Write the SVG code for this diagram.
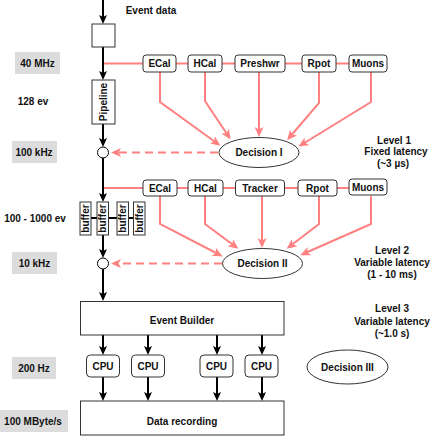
<svg xmlns="http://www.w3.org/2000/svg" width="436" height="436" viewBox="0 0 436 436">
<style>
text{font-family:"Liberation Sans",Arial,sans-serif;font-weight:bold;font-size:10px;fill:#111;text-anchor:middle}
.box{fill:#fff;stroke:#333;stroke-width:1}
.rbox{fill:#fff;stroke:#333;stroke-width:1}
.gray{fill:#dcdcdc;stroke:none}
.blk{stroke:#000;stroke-width:2;fill:none}
.pk{stroke:#ff8080;stroke-width:2;fill:none;stroke-linejoin:miter}
.dash{stroke:#ff8080;stroke-width:2;fill:none;stroke-dasharray:8 5}
.ell{fill:#fff;stroke:#333;stroke-width:1}
.circ{fill:#fff;stroke:#000;stroke-width:1}
</style>
<defs>
<marker id="ab" viewBox="0 0 9 8" refX="6" refY="4" markerWidth="9" markerHeight="8" markerUnits="userSpaceOnUse" orient="auto">
<path d="M0,0 L9,4 L0,8 L2,4 z" fill="#000"/>
</marker>
<marker id="ap" viewBox="0 0 10 9" refX="7" refY="4.5" markerWidth="10" markerHeight="9" markerUnits="userSpaceOnUse" orient="auto">
<path d="M0,0 L10,4.5 L0,9 L2.5,4.5 z" fill="#ff8080"/>
</marker>
</defs>

<g id="labels">
<rect class="gray" x="15" y="52" width="45" height="22"/><text x="37.5" y="66.5">40 MHz</text>
<text x="33" y="104.5">128 ev</text>
<rect class="gray" x="12" y="141" width="45" height="22"/><text x="34" y="155.5">100 kHz</text>
<text x="35" y="221.5">100 - 1000 ev</text>
<rect class="gray" x="12" y="252" width="45" height="22"/><text x="34.5" y="266.5">10 kHz</text>
<rect class="gray" x="12" y="357" width="44" height="22"/><text x="34" y="371.5">200 Hz</text>
<rect class="gray" x="0" y="410" width="68" height="22"/><text x="33" y="424.5">100 MByte/s</text>
<text x="151" y="13.5">Event data</text>
<text x="394" y="143.5">Level 1</text>
<text x="396" y="155">Fixed latency</text>
<text x="393" y="166.5">(~3 µs)</text>
<text x="392" y="254">Level 2</text>
<text x="392" y="266">Variable latency</text>
<text x="392" y="277.5">(1 - 10 ms)</text>
<text x="392" y="312">Level 3</text>
<text x="392" y="324.5">Variable latency</text>
<text x="392" y="336.5">(~1.0 s)</text>
</g>

<g id="connectors">
<line class="pk" x1="103" y1="63.5" x2="349" y2="63.5"/>
<line class="pk" x1="103" y1="188" x2="349" y2="188"/>
<polyline class="pk" points="160,72 160,102 218,144" marker-end="url(#ap)"/>
<polyline class="pk" points="205,72 205,101 229,137" marker-end="url(#ap)"/>
<polyline class="pk" points="259,72 259,134" marker-end="url(#ap)"/>
<polyline class="pk" points="319,72 319,103 289,138" marker-end="url(#ap)"/>
<polyline class="pk" points="371,72 371,102 301,145" marker-end="url(#ap)"/>
<polyline class="pk" points="160,196 160,224 220,255" marker-end="url(#ap)"/>
<polyline class="pk" points="205,196 205,224 236,247" marker-end="url(#ap)"/>
<polyline class="pk" points="262,196 262,245" marker-end="url(#ap)"/>
<polyline class="pk" points="319,196 319,224 289,247" marker-end="url(#ap)"/>
<polyline class="pk" points="371,196 371,224 303,254" marker-end="url(#ap)"/>
<line class="dash" x1="218" y1="152.5" x2="114" y2="152.5" marker-end="url(#ap)"/>
<line class="dash" x1="222" y1="263.5" x2="114" y2="263.5" marker-end="url(#ap)"/>
<line class="blk" x1="103" y1="0" x2="103" y2="21" marker-end="url(#ab)"/>
<line class="blk" x1="103" y1="47" x2="103" y2="77" marker-end="url(#ab)"/>
<line class="blk" x1="103" y1="124" x2="103" y2="144" marker-end="url(#ab)"/>
<line class="blk" x1="103" y1="158" x2="103" y2="199" marker-end="url(#ab)"/>
<line class="blk" x1="80" y1="218" x2="145" y2="218"/>
<line class="blk" x1="103" y1="235" x2="103" y2="255" marker-end="url(#ab)"/>
<line class="blk" x1="103" y1="269" x2="103" y2="298" marker-end="url(#ab)"/>
<line class="blk" x1="103" y1="335" x2="103" y2="352" marker-end="url(#ab)"/>
<line class="blk" x1="148" y1="335" x2="148" y2="352" marker-end="url(#ab)"/>
<line class="blk" x1="217" y1="335" x2="217" y2="352" marker-end="url(#ab)"/>
<line class="blk" x1="262" y1="335" x2="262" y2="352" marker-end="url(#ab)"/>
<line class="blk" x1="103" y1="377" x2="103" y2="398" marker-end="url(#ab)"/>
<line class="blk" x1="148" y1="377" x2="148" y2="398" marker-end="url(#ab)"/>
<line class="blk" x1="217" y1="377" x2="217" y2="398" marker-end="url(#ab)"/>
<line class="blk" x1="262" y1="377" x2="262" y2="398" marker-end="url(#ab)"/>
</g>

<g id="input-box"><rect class="box" x="92" y="24" width="23" height="23"/></g>
<g id="pipeline"><rect class="box" x="92" y="80" width="23" height="44"/><text transform="translate(106.5,102) rotate(-90)">Pipeline</text></g>
<g id="node-circle1"><circle class="circ" cx="103" cy="152.5" r="5.5"/></g>
<g id="node-circle2"><circle class="circ" cx="103" cy="263.5" r="5.5"/></g>

<g id="ecal1"><rect class="rbox" x="143" y="55" width="33" height="17" rx="3"/><text x="159.5" y="67">ECal</text></g>
<g id="hcal1"><rect class="rbox" x="188" y="55" width="34" height="17" rx="3"/><text x="205" y="67">HCal</text></g>
<g id="preshwr"><rect class="rbox" x="235" y="55" width="50" height="17" rx="3"/><text x="260" y="67">Preshwr</text></g>
<g id="rpot1"><rect class="rbox" x="302" y="55" width="34" height="17" rx="3"/><text x="319" y="67">Rpot</text></g>
<g id="muons1"><rect class="rbox" x="349" y="55" width="38" height="17" rx="3"/><text x="368" y="67">Muons</text></g>
<g id="decision1"><ellipse class="ell" cx="259" cy="152.5" rx="40" ry="15"/><text x="259" y="156">Decision I</text></g>

<g id="ecal2"><rect class="rbox" x="143" y="180" width="34" height="16" rx="3"/><text x="160" y="191.5">ECal</text></g>
<g id="hcal2"><rect class="rbox" x="188" y="180" width="35" height="16" rx="3"/><text x="205.5" y="191.5">HCal</text></g>
<g id="tracker"><rect class="rbox" x="235.5" y="180" width="49" height="16" rx="3"/><text x="260" y="191.5">Tracker</text></g>
<g id="rpot2"><rect class="rbox" x="298" y="180" width="39" height="16" rx="3"/><text x="317.5" y="191.5">Rpot</text></g>
<g id="muons2"><rect class="rbox" x="349" y="179" width="38" height="16" rx="3"/><text x="368" y="190.5">Muons</text></g>
<g id="decision2"><ellipse class="ell" cx="262.5" cy="263.5" rx="40" ry="15"/><text x="262.5" y="267">Decision II</text></g>

<g id="buffer1"><rect class="box" x="80" y="202" width="11" height="33"/><text transform="translate(89,218.5) rotate(-90)">buffer</text></g>
<g id="buffer2"><rect class="box" x="97" y="202" width="11.5" height="33"/><text transform="translate(106.2,218.5) rotate(-90)">buffer</text></g>
<g id="buffer3"><rect class="box" x="117" y="202" width="11.5" height="33"/><text transform="translate(126.2,218.5) rotate(-90)">buffer</text></g>
<g id="buffer4"><rect class="box" x="133.5" y="202" width="11.5" height="33"/><text transform="translate(142.7,218.5) rotate(-90)">buffer</text></g>

<g id="event-builder"><rect class="box" x="80.5" y="301.5" width="203.5" height="33.5"/><text x="182" y="324">Event Builder</text></g>
<g id="cpu1"><rect class="rbox" x="86.5" y="355" width="33" height="22" rx="4"/><text x="103" y="369.5">CPU</text></g>
<g id="cpu2"><rect class="rbox" x="131.5" y="355" width="33" height="22" rx="4"/><text x="148" y="369.5">CPU</text></g>
<g id="cpu3"><rect class="rbox" x="200" y="355" width="33" height="22" rx="4"/><text x="216.5" y="369.5">CPU</text></g>
<g id="cpu4"><rect class="rbox" x="245" y="355" width="33" height="22" rx="4"/><text x="261.5" y="369.5">CPU</text></g>
<g id="data-recording"><rect class="box" x="80.5" y="401" width="203.5" height="34"/><text x="182" y="424.5">Data recording</text></g>
<g id="decision3"><ellipse class="ell" cx="347.5" cy="367" rx="40.5" ry="17"/><text x="347.5" y="370.5">Decision III</text></g>
</svg>
